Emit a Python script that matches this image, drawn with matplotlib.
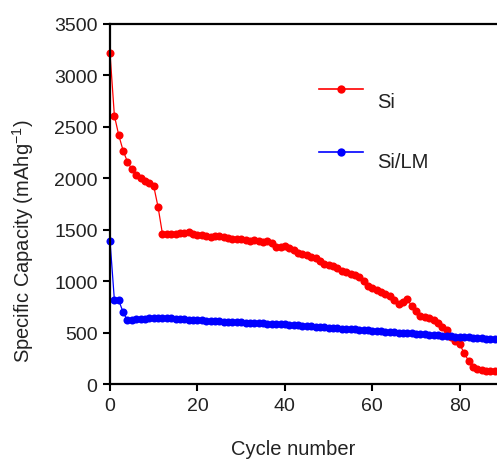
import matplotlib
matplotlib.use("Agg")
import matplotlib.pyplot as plt
from matplotlib.lines import Line2D

plt.rcParams['font.family'] = ['Liberation Sans', 'DejaVu Sans']
plt.rcParams['mathtext.fontset'] = 'custom'
plt.rcParams['mathtext.rm'] = 'Liberation Sans'
plt.rcParams['mathtext.it'] = 'Liberation Sans:italic'

series_names = ["Si", "Si/LM"]
series_colors = ["#FF0000", "#0000FF"]

cycles = list(range(0, 89))

si = [3220, 2610, 2420, 2270, 2160, 2090, 2030, 2000, 1975, 1955,
      1925, 1720, 1460, 1462, 1458, 1460, 1465, 1470, 1475, 1460,
      1455, 1450, 1440, 1435, 1445, 1440, 1430, 1425, 1415, 1410,
      1415, 1400, 1395, 1405, 1390, 1385, 1390, 1370, 1335, 1330,
      1340, 1320, 1300, 1280, 1265, 1255, 1240, 1230, 1200, 1170,
      1160, 1150, 1125, 1105, 1090, 1075, 1065, 1045, 1000, 955,
      940, 915, 900, 880, 860, 820, 780, 800, 825, 760,
      710, 665, 650, 640, 625, 600, 560, 530, 460, 420,
      390, 300, 230, 170, 150, 140, 132, 130, 130]

si_lm = [1395, 820, 815, 700, 620, 625, 630, 635, 638, 640,
         642, 643, 643, 642, 640, 637, 634, 631, 628, 625,
         622, 620, 618, 616, 614, 612, 610, 608, 606, 604,
         602, 600, 598, 596, 594, 592, 590, 588, 586, 584,
         582, 580, 576, 572, 569, 566, 563, 560, 557, 554,
         551, 548, 545, 542, 539, 536, 533, 530, 527, 524,
         521, 518, 515, 512, 509, 506, 503, 500, 497, 494,
         491, 488, 485, 482, 479, 476, 473, 470, 467, 464,
         461, 458, 455, 452, 449, 446, 443, 441, 439]

x_ticks = [0, 20, 40, 60, 80]
y_ticks = [0, 500, 1000, 1500, 2000, 2500, 3000, 3500]

fig = plt.figure(figsize=(4.97, 4.60), dpi=100)
ax = fig.add_axes([110/497, (460-385.3)/460, (497-110)/497, 360.3/460])

for vals, name, col in zip([si, si_lm], series_names, series_colors):
    ax.plot(cycles, vals, color=col, marker='o', markersize=5.8, lw=0.9,
            markeredgewidth=0, label=name, clip_on=False)

ax.set_xlim(0, 88.5)
ax.set_ylim(0, 3500)
ax.set_xticks(x_ticks)
ax.set_yticks(y_ticks)
ax.spines['right'].set_visible(False)
for s in ['left', 'bottom', 'top']:
    ax.spines[s].set_linewidth(1.6)
ax.tick_params(axis='both', direction='out', length=5, width=1.5,
               labelsize=14, pad=4, top=False, right=False,
               labelcolor='#222222')

ax.set_xlabel("Cycle number", fontsize=14.5, color='#222222')
ax.set_ylabel(r"Specific Capacity (mAhg$^{\mathregular{-1}}$)", fontsize=14.5,
              color='#222222')
ax.xaxis.set_label_coords(0.473, -0.152)
ax.yaxis.set_label_coords(-0.19, 0.40)

# manual legend (line above, text below right)
leg_y = [0.8196, 0.6456]
txt_y = [0.786, 0.617]
for name, col, ly, ty in zip(series_names, series_colors, leg_y, txt_y):
    ax.add_line(Line2D([0.540, 0.654], [ly, ly], transform=ax.transAxes,
                       color=col, lw=1.2))
    ax.add_line(Line2D([0.597], [ly], transform=ax.transAxes, color=col,
                       marker='o', markersize=6, markeredgewidth=0))
    ax.text(0.690, ty, name, transform=ax.transAxes, fontsize=14.5,
            va='center', ha='left', color='#222222')

fig.savefig("out.png", dpi=100)
